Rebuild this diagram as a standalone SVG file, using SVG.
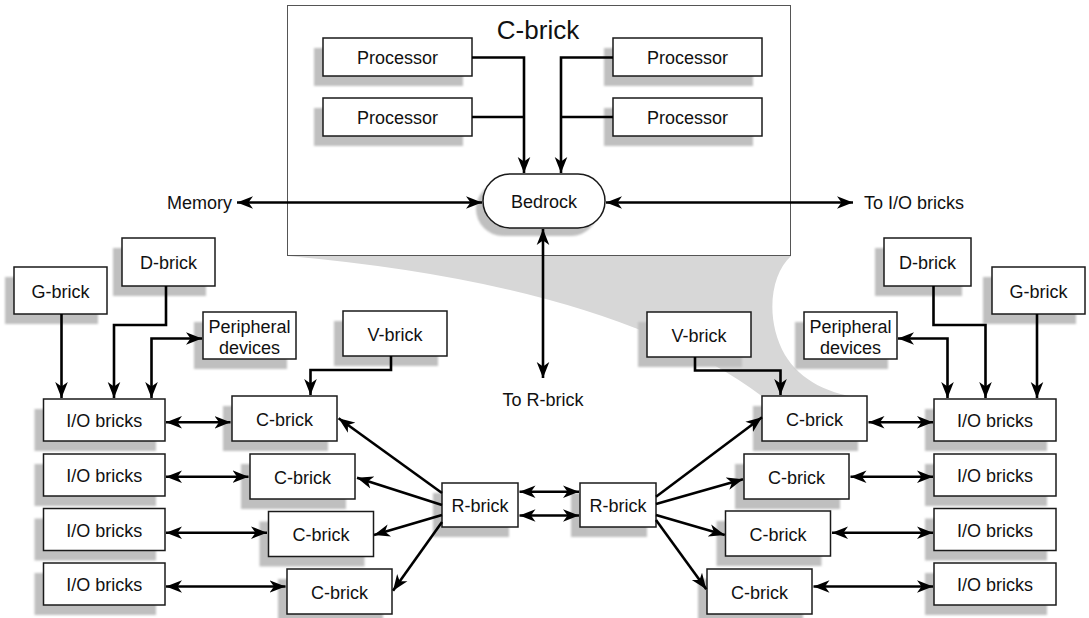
<svg xmlns="http://www.w3.org/2000/svg" width="1089" height="618" viewBox="0 0 1089 618">
<style>
.bx{fill:#fff;stroke:#1a1a1a;stroke-width:1.5}
.sh{fill:#bfbfbf;filter:url(#bl)}
.t{font-family:"Liberation Sans",Arial,Helvetica,sans-serif;font-size:18px;text-anchor:middle;fill:#111}
.c{fill:none;stroke:#000;stroke-width:2.6}
.a{marker-end:url(#ah)}
.d{marker-start:url(#ah);marker-end:url(#ah)}
</style>
<defs>
<filter id="bl" x="-10%" y="-10%" width="120%" height="120%"><feGaussianBlur stdDeviation="0.9"/></filter>
<marker id="ah" markerWidth="17" markerHeight="14" refX="16" refY="7" orient="auto-start-reverse" markerUnits="userSpaceOnUse"><path d="M0,0.7 L16,7 L0,13.3 L4.5,7 Z" fill="#000"/></marker>
</defs>
<rect width="1089" height="618" fill="#fff"/>
<path id="funnel" d="M288,256 L791,256 C770,275 765,320 785,355 C800,380 830,396 867,398 L763,397 Q614,285 288,256 Z" fill="#d7d7d7"/>
<g id="cbrick-container">
<rect x="287.5" y="5.5" width="503" height="250" fill="#fff" stroke="#555" stroke-width="1"/>
<text x="538" y="39" class="t" style="font-size:26px">C-brick</text>
</g>
<g id="proc1"><rect class="sh" x="314" y="48" width="149" height="38"/><rect class="bx" x="323" y="38" width="149" height="38"/><text class="t" x="397.5" y="64">Processor</text></g>
<g id="proc2"><rect class="sh" x="314" y="108" width="149" height="38"/><rect class="bx" x="323" y="98" width="149" height="38"/><text class="t" x="397.5" y="124">Processor</text></g>
<g id="proc3"><rect class="sh" x="604" y="48" width="149" height="38"/><rect class="bx" x="613" y="38" width="149" height="38"/><text class="t" x="687.5" y="64">Processor</text></g>
<g id="proc4"><rect class="sh" x="604" y="108" width="149" height="38"/><rect class="bx" x="613" y="98" width="149" height="38"/><text class="t" x="687.5" y="124">Processor</text></g>
<g id="bedrock"><rect class="sh" x="476" y="182" width="122" height="54" rx="27"/><rect class="bx" x="483" y="174" width="122" height="54" rx="27"/><text class="t" x="544" y="208">Bedrock</text></g>
<g id="gbrick-l"><rect class="sh" x="5" y="277" width="93" height="47"/><rect class="bx" x="14" y="267" width="93" height="47"/><text class="t" x="60.5" y="297.5">G-brick</text></g>
<g id="dbrick-l"><rect class="sh" x="113" y="248" width="93" height="48"/><rect class="bx" x="122" y="238" width="93" height="48"/><text class="t" x="168.5" y="269">D-brick</text></g>
<g id="periph-l"><rect class="sh" x="194" y="322" width="93" height="47"/><rect class="bx" x="203" y="312" width="93" height="47"/><text class="t" x="249.5" y="333">Peripheral</text><text class="t" x="249.5" y="354">devices</text></g>
<g id="vbrick-l"><rect class="sh" x="334" y="321" width="104" height="45"/><rect class="bx" x="343" y="311" width="104" height="45"/><text class="t" x="395" y="340.5">V-brick</text></g>
<g id="io-l1"><rect class="sh" x="34.5" y="409" width="121.5" height="42"/><rect class="bx" x="43.5" y="399" width="121.5" height="42"/><text class="t" x="104.25" y="427">I/O bricks</text></g>
<g id="io-l2"><rect class="sh" x="34.5" y="464" width="121.5" height="42"/><rect class="bx" x="43.5" y="454" width="121.5" height="42"/><text class="t" x="104.25" y="482">I/O bricks</text></g>
<g id="io-l3"><rect class="sh" x="34.5" y="518.5" width="121.5" height="42"/><rect class="bx" x="43.5" y="508.5" width="121.5" height="42"/><text class="t" x="104.25" y="536.5">I/O bricks</text></g>
<g id="io-l4"><rect class="sh" x="34.5" y="573" width="121.5" height="42"/><rect class="bx" x="43.5" y="563" width="121.5" height="42"/><text class="t" x="104.25" y="591">I/O bricks</text></g>
<g id="c-l1"><rect class="sh" x="223" y="406" width="105" height="45"/><rect class="bx" x="232" y="396" width="105" height="45"/><text class="t" x="284.5" y="425.5">C-brick</text></g>
<g id="c-l2"><rect class="sh" x="241" y="464" width="105" height="45"/><rect class="bx" x="250" y="454" width="105" height="45"/><text class="t" x="302.5" y="483.5">C-brick</text></g>
<g id="c-l3"><rect class="sh" x="259.5" y="521.5" width="105" height="45"/><rect class="bx" x="268.5" y="511.5" width="105" height="45"/><text class="t" x="321" y="541">C-brick</text></g>
<g id="c-l4"><rect class="sh" x="278" y="579" width="105" height="45"/><rect class="bx" x="287" y="569" width="105" height="45"/><text class="t" x="339.5" y="598.5">C-brick</text></g>
<g id="r-l"><rect class="sh" x="433" y="493" width="76" height="44"/><rect class="bx" x="442" y="483" width="76" height="44"/><text class="t" x="480" y="512">R-brick</text></g>
<g id="r-r"><rect class="sh" x="571" y="493" width="76" height="44"/><rect class="bx" x="580" y="483" width="76" height="44"/><text class="t" x="618" y="512">R-brick</text></g>
<g id="c-r1"><rect class="sh" x="753" y="406" width="105" height="45"/><rect class="bx" x="762" y="396" width="105" height="45"/><text class="t" x="814.5" y="425.5">C-brick</text></g>
<g id="c-r2"><rect class="sh" x="735" y="464" width="105" height="45"/><rect class="bx" x="744" y="454" width="105" height="45"/><text class="t" x="796.5" y="483.5">C-brick</text></g>
<g id="c-r3"><rect class="sh" x="716.5" y="521" width="105" height="45"/><rect class="bx" x="725.5" y="511" width="105" height="45"/><text class="t" x="778" y="540.5">C-brick</text></g>
<g id="c-r4"><rect class="sh" x="698" y="579" width="105" height="45"/><rect class="bx" x="707" y="569" width="105" height="45"/><text class="t" x="759.5" y="598.5">C-brick</text></g>
<g id="io-r1"><rect class="sh" x="925" y="409" width="122" height="42"/><rect class="bx" x="934" y="399" width="122" height="42"/><text class="t" x="995" y="427">I/O bricks</text></g>
<g id="io-r2"><rect class="sh" x="925" y="464" width="122" height="42"/><rect class="bx" x="934" y="454" width="122" height="42"/><text class="t" x="995" y="482">I/O bricks</text></g>
<g id="io-r3"><rect class="sh" x="925" y="518.5" width="122" height="42"/><rect class="bx" x="934" y="508.5" width="122" height="42"/><text class="t" x="995" y="536.5">I/O bricks</text></g>
<g id="io-r4"><rect class="sh" x="925" y="573" width="122" height="42"/><rect class="bx" x="934" y="563" width="122" height="42"/><text class="t" x="995" y="591">I/O bricks</text></g>
<g id="vbrick-r"><rect class="sh" x="638" y="322" width="104" height="45"/><rect class="bx" x="647" y="312" width="104" height="45"/><text class="t" x="699" y="341.5">V-brick</text></g>
<g id="periph-r"><rect class="sh" x="795" y="322" width="93" height="47"/><rect class="bx" x="804" y="312" width="93" height="47"/><text class="t" x="850.5" y="333">Peripheral</text><text class="t" x="850.5" y="354">devices</text></g>
<g id="dbrick-r"><rect class="sh" x="875" y="248" width="87" height="48"/><rect class="bx" x="884" y="238" width="87" height="48"/><text class="t" x="927.5" y="269">D-brick</text></g>
<g id="gbrick-r"><rect class="sh" x="983" y="277" width="93" height="47"/><rect class="bx" x="992" y="267" width="93" height="47"/><text class="t" x="1038.5" y="297.5">G-brick</text></g>
<g id="labels">
<text class="t" x="232" y="209" style="text-anchor:end">Memory</text>
<text class="t" x="864" y="209" style="text-anchor:start">To I/O bricks</text>
<text class="t" x="543" y="406">To R-brick</text>
</g>
<g id="connectors">
<path class="c a" d="M472,57.5 H524 V173"/>
<path class="c" d="M472,117 H524"/>
<path class="c a" d="M613,57.5 H561 V173"/>
<path class="c" d="M613,117 H561"/>
<path class="c d" d="M237,202.5 H482"/>
<path class="c d" d="M606,202.5 H853"/>
<path class="c d" d="M543,229 V378"/>
<path class="c a" d="M61.5,314 V398"/>
<path class="c a" d="M166,286 V325 H114 V398"/>
<path class="c d" d="M151.5,398 V338.5 H202"/>
<path class="c a" d="M391,356 V370 H310.5 V395"/>
<path class="c a" d="M1037,314 V398"/>
<path class="c a" d="M933.5,286 V325 H985.5 V398"/>
<path class="c d" d="M947.5,398 V338.5 H898"/>
<path class="c a" d="M695,357 V370.5 H780.5 V395"/>
<path class="c d" d="M166,422.3 H230.5"/>
<path class="c d" d="M166,476.7 H248.5"/>
<path class="c d" d="M166,532.7 H267"/>
<path class="c d" d="M166,586.5 H285.5"/>
<path class="c d" d="M868.5,422.3 H933"/>
<path class="c d" d="M850.5,476.7 H933"/>
<path class="c d" d="M832,532.7 H933"/>
<path class="c d" d="M813.5,586.5 H933"/>
<path class="c d" d="M519.5,491.7 H579"/>
<path class="c d" d="M519.5,515.5 H579"/>
<path class="c a" d="M442,493 L338.6,418.3"/>
<path class="c a" d="M442,505 L357,477.7"/>
<path class="c a" d="M442,515 L374,535"/>
<path class="c a" d="M442,522 L393,590.7"/>
<path class="c a" d="M656,496.7 L762,417.3"/>
<path class="c a" d="M656,504 L743,479.3"/>
<path class="c a" d="M656,515 L724.8,535"/>
<path class="c a" d="M656,520 L706.3,589.3"/>
</g>
</svg>
